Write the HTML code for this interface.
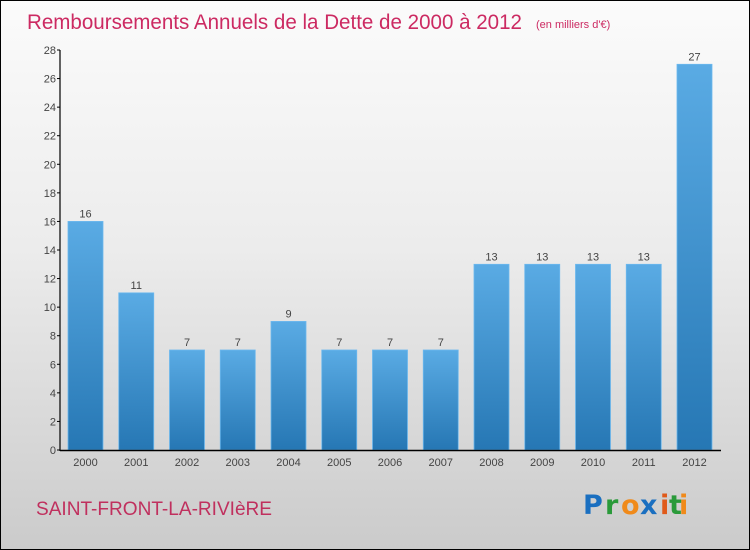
<!DOCTYPE html>
<html><head><meta charset="utf-8"><style>
html,body{margin:0;padding:0}
body{width:750px;height:550px;overflow:hidden;font-family:"Liberation Sans",sans-serif}
#wrap{position:absolute;left:0;top:0;width:748px;height:548px;border:1px solid #000;background:linear-gradient(#fbfbfb,#ececec 45%,#cbcbcb)}
</style></head><body>
<div id="wrap">
<svg width="750" height="550" style="position:absolute;left:-1px;top:-1px">
<defs><linearGradient id="bg" x1="0" y1="0" x2="0" y2="1"><stop offset="0" stop-color="#5aabe4"/><stop offset="1" stop-color="#2677b4"/></linearGradient></defs>
<text x="27" y="29" font-size="21" fill="#cc2a62" textLength="495" lengthAdjust="spacingAndGlyphs">Remboursements Annuels de la Dette de 2000 à 2012</text>
<text x="536" y="28" font-size="11" fill="#cc2a62">(en milliers d'€)</text>
<g id="yaxis"></g><g id="bars"></g><g id="xaxis"></g>
<text x="36" y="515" font-size="19" fill="#c0305e" textLength="236" lengthAdjust="spacingAndGlyphs">SAINT-FRONT-LA-RIVIèRE</text>
<g font-size="27" font-weight="bold" font-family="'DejaVu Sans',sans-serif">
<text x="583" y="514" fill="#1a6fc0">P</text><text x="605" y="514" fill="#2a9a3a">r</text><text x="621" y="514" fill="#f08a1a">o</text><text x="640" y="514" fill="#1a6fc0">x</text><text x="660" y="514" fill="#e05a1a">i</text><text x="669" y="514" fill="#2a9a3a">t</text><text x="679" y="514" fill="#f08a1a">i</text>
</g>
</svg></div>
<script>
const categories=["2000","2001","2002","2003","2004","2005","2006","2007","2008","2009","2010","2011","2012"];
const values=[16,11,7,7,9,7,7,7,13,13,13,13,27];
const yTicks=[0,2,4,6,8,10,12,14,16,18,20,22,24,26,28];
const NS="http://www.w3.org/2000/svg";
const y0=450,yMax=28,pxPer=400/yMax;
function ys(v){return y0-v*pxPer;}
function xc(i){return 85.5+i*50.75;}
function mk(tag,attrs,parent,txt){const e=document.createElementNS(NS,tag);for(const k in attrs)e.setAttribute(k,attrs[k]);if(txt!==undefined)e.textContent=txt;parent.appendChild(e);return e;}
const ya=document.getElementById('yaxis'),ba=document.getElementById('bars'),xa=document.getElementById('xaxis');
let l=mk('line',{x1:60,y1:50,x2:60,y2:451,stroke:'#000','stroke-width':1.2},ya);


yTicks.forEach(t=>{
 const tk=mk('line',{x1:57,x2:60,y1:ys(t),y2:ys(t),stroke:'#000'},ya);
 
 
 const tx=mk('text',{x:56,y:ys(t)+4,'font-size':11,fill:'#444','text-anchor':'end'},ya,t);
 
 
});
let xl=mk('line',{x1:60,y1:450.5,x2:721,y2:450.5,stroke:'#000','stroke-width':1.4},xa);


categories.forEach((c,i)=>{
 const v=values[i];
 const r=mk('rect',{x:xc(i)-17.5,y:ys(v),width:35,height:y0-ys(v),fill:'url(#bg)',stroke:'#6cb8ee','stroke-width':0.8},ba);
 
 
 const vl=mk('text',{x:xc(i),y:ys(v)-4,'font-size':11,fill:'#444','text-anchor':'middle'},ba,v);
 
 
 const xt=mk('text',{x:xc(i),y:466,'font-size':11,fill:'#444','text-anchor':'middle'},xa,c);
 
 
});
</script>
</body></html>
